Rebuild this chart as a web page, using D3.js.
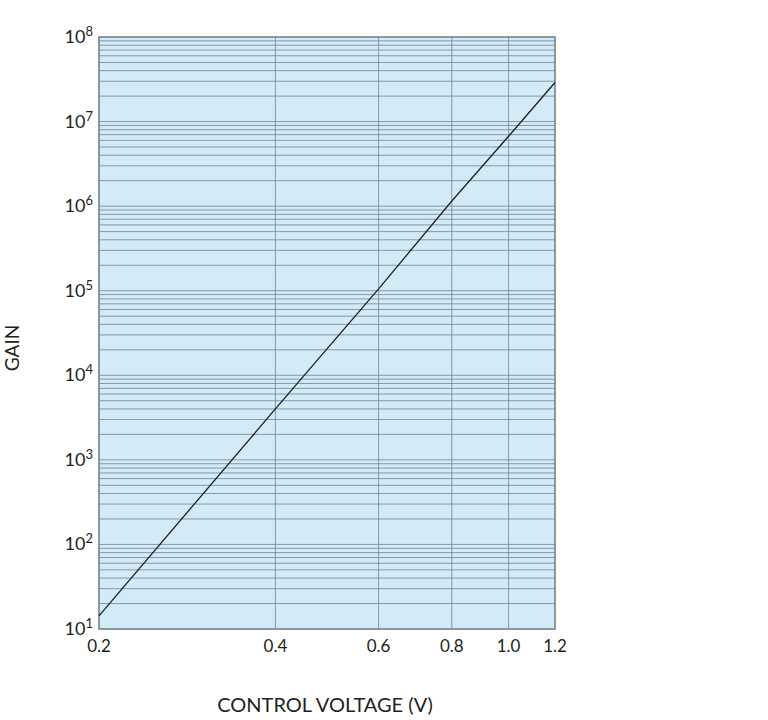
<!DOCTYPE html>
<html><head><meta charset="utf-8">
<script src="https://cdn.jsdelivr.net/npm/d3@7"></script>
<style>body{margin:0;background:#fff;} text{font-family:Lato,"Open Sans","Liberation Sans",sans-serif;fill:#231f20;}</style>
</head><body>
<svg id="c" width="768" height="720"></svg>
<script>
const voltage = [0.2, 0.4, 0.6, 0.8, 1.0, 1.2];
const gain = [14.3, 4000, 1.05e5, 1.15e6, 6.7e6, 2.9e7];
const xTicks = [0.2, 0.4, 0.6, 0.8, 1.0, 1.2];
const xTickLabels = ["0.2", "0.4", "0.6", "0.8", "1.0", "1.2"];
const yExponents = [1, 2, 3, 4, 5, 6, 7, 8];

const svg = d3.select("#c");
const L = 99, R = 555, T = 37, B = 629;
const x = d3.scaleLog().domain([0.2, 1.2]).range([L, R]);
const y = d3.scaleLog().domain([10, 1e8]).range([B, T]);

svg.append("rect").attr("x", L).attr("y", T).attr("width", R - L).attr("height", B - T)
  .attr("fill", "#d3eaf7");

// horizontal grid
const hLines = [];
for (let e = 1; e < 8; e++) for (let m = 1; m <= 9; m++) hLines.push(m * Math.pow(10, e));
svg.append("g").selectAll("line").data(hLines.filter(v => v > 10)).join("line")
  .attr("x1", L).attr("x2", R).attr("y1", d => y(d)).attr("y2", d => y(d))
  .attr("stroke", "#6f8595").attr("stroke-width", 0.8);
// vertical grid
svg.append("g").selectAll("line").data(xTicks.slice(1, -1)).join("line")
  .attr("y1", T).attr("y2", B).attr("x1", d => x(d)).attr("x2", d => x(d))
  .attr("stroke", "#6f8595").attr("stroke-width", 0.8);

svg.append("rect").attr("x", L).attr("y", T).attr("width", R - L).attr("height", B - T)
  .attr("fill", "none").attr("stroke", "#6d7a84").attr("stroke-width", 1.5);

// line
svg.append("path").datum(voltage.map((v, i) => [v, gain[i]]))
  .attr("d", d3.line().x(d => x(d[0])).y(d => y(d[1])))
  .attr("fill", "none").attr("stroke", "#231f20").attr("stroke-width", 1.3);

// x tick labels
svg.append("g").selectAll("text").data(xTicks).join("text")
  .attr("x", d => x(d)).attr("y", B + 23).attr("text-anchor", "middle")
  .attr("font-size", 17).text((d, i) => xTickLabels[i]);

// y tick labels
const yl = svg.append("g").selectAll("text").data(yExponents).join("text")
  .attr("x", 93).attr("y", d => y(Math.pow(10, d)) + 6).attr("text-anchor", "end")
  .attr("font-size", 18);
yl.append("tspan").text("10");
yl.append("tspan").attr("dy", -7).attr("font-size", 13).text(d => d);

svg.append("text").attr("transform", "translate(19,348) rotate(-90)")
  .attr("text-anchor", "middle").attr("font-size", 19).text("GAIN");
svg.append("text").attr("x", 325).attr("y", 712).attr("text-anchor", "middle")
  .attr("font-size", 20).text("CONTROL VOLTAGE (V)");
</script>
</body></html>
